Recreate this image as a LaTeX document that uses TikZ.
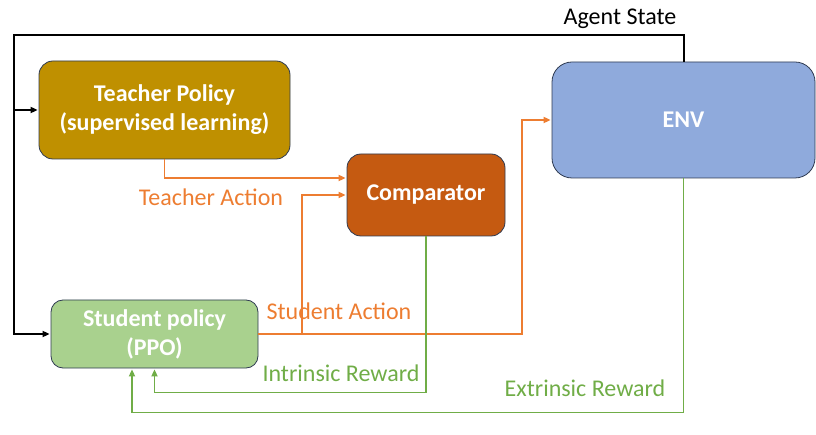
\documentclass[tikz,border=0pt]{standalone}
\usepackage{fontspec}
\setmainfont{Carlito}
\usetikzlibrary{arrows.meta}
\definecolor{teachc}{HTML}{BF9000}
\definecolor{envc}{HTML}{8FAADC}
\definecolor{compc}{HTML}{C55A11}
\definecolor{studc}{HTML}{A9D18E}
\definecolor{edgec}{HTML}{2F3B52}
\definecolor{orc}{HTML}{ED7D31}
\definecolor{grc}{HTML}{70AD47}
\tikzset{
  box/.style={draw=edgec, line width=0.8pt, rounded corners=14pt, text=white, align=center, font=\fontsize{24}{29}\selectfont\bfseries, inner sep=0pt},
  tip/.style={-{Triangle[length=7pt,width=6pt]}, shorten >=1pt},
  blk/.style={draw=black, line width=2pt, tip},
  oar/.style={draw=orc, line width=1.8pt, tip},
  gar/.style={draw=grc, line width=1.8pt, tip},
  lbl/.style={font=\fontsize{24}{29}\selectfont, inner sep=0pt}
}
\begin{document}
\begin{tikzpicture}[x=1pt,y=-1pt]
\useasboundingbox (0,0) rectangle (816,435);
\node[box, fill=teachc, minimum width=251pt, minimum height=98pt] (T) at (164.5,110) {Teacher Policy\\(supervised learning)};
\node[box, fill=envc, minimum width=263pt, minimum height=116pt, rounded corners=20pt] (E) at (683.5,120) {ENV};
\node[box, fill=compc, minimum width=158pt, minimum height=82pt] (C) at (426,195) {Comparator};
\node[box, fill=studc, minimum width=207pt, minimum height=68pt, rounded corners=12pt] (S) at (154.5,334) {Student policy\\(PPO)};
\coordinate (tl) at (14,35);
\coordinate (j) at (302,334);
\coordinate (sx) at (522,334);
% black
\draw[blk] (E.north) |- (tl) |- (T.west);
\draw[blk] (tl) |- (S.west);
% orange
\draw[oar] (T.south) |- ([yshift=17pt]C.west);
\draw[oar] (j) |- (C.west);
\draw[oar] (S.east) -- (sx) |- (E.west);
% green
\draw[gar] (C.south) |- ([yshift=-24pt]S.south) -- (S.south);
\draw[gar] (E.south) |- ([xshift=-22.5pt,yshift=-44pt]S.south) -- ([xshift=-22.5pt]S.south);
% labels
\node[lbl] (la) at (620,19) {Agent State};
\node[lbl, text=orc] (lt) at (211,197) {Teacher Action};
\node[lbl, text=orc] (ls) at (339,311) {Student Action};
\node[lbl, text=grc] (li) at (341,373) {Intrinsic Reward};
\node[lbl, text=grc] (lx) at (585,388) {Extrinsic Reward};
\end{tikzpicture}
\end{document}
